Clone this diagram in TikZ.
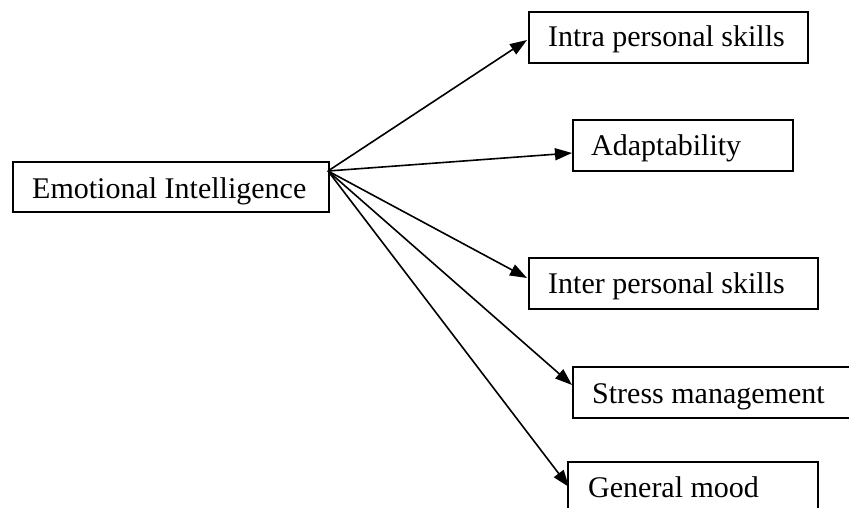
\documentclass[tikz,border=0pt]{standalone}
\usepackage{fontspec}
\setmainfont{Liberation Serif}
\usetikzlibrary{arrows.meta}
\begin{document}
\begin{tikzpicture}[x=1pt,y=-1pt,
  box/.style={draw, line width=1.8pt, rectangle, inner sep=0pt, anchor=north west},
  lbl/.style={anchor=base west, inner sep=0pt, font=\fontsize{30}{36}\selectfont},
  conn/.style={-{Triangle[length=17pt,width=12pt]}, line width=1.6pt}]
\useasboundingbox (0,0) rectangle (849,508);
\clip (0,0) rectangle (849,508);
% boxes
\node[box, minimum width=316pt, minimum height=50pt] (ei) at (12,161) {};
\node[box, minimum width=279pt, minimum height=51pt] (intra) at (528,11) {};
\node[box, minimum width=220pt, minimum height=51pt] (adapt) at (572,119) {};
\node[box, minimum width=289pt, minimum height=51pt] (inter) at (528,257) {};
\node[box, minimum width=290pt, minimum height=51pt] (stress) at (572,366) {};
\node[box, minimum width=250pt, minimum height=60pt] (gen) at (567,461) {};
% labels
\node[lbl] (eiT) at (32,198) {Emotional Intelligence};
\node[lbl] (intraT) at (548,47) {Intra personal skills};
\node[lbl] (adaptT) at (591,156) {Adaptability};
\node[lbl] (interT) at (548,293) {Inter personal skills};
\node[lbl] (stressT) at (592,403) {Stress management};
\node[lbl] (genT) at (588,497) {General mood};
% connector end points
\coordinate (o) at (328,171);
\coordinate (t1) at (527,40);
\coordinate (t2) at (572,153);
\coordinate (t3) at (527,278);
\coordinate (t4) at (572,385);
\coordinate (t5) at (569,487);
\draw[conn] (o) -- (t1);
\draw[conn] (o) -- (t2);
\draw[conn] (o) -- (t3);
\draw[conn] (o) -- (t4);
\draw[conn] (o) -- (t5);
\end{tikzpicture}
\end{document}
